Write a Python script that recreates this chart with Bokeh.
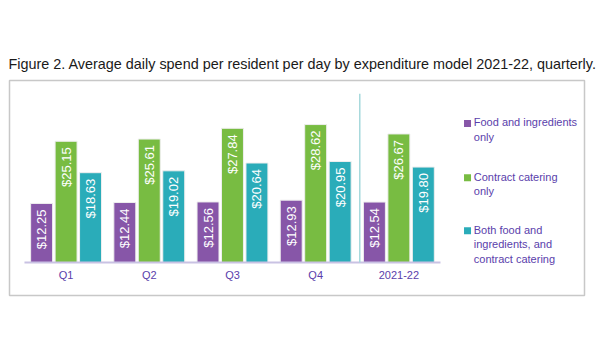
import math
from bokeh.plotting import figure
from bokeh.models import ColumnDataSource, Range1d
from bokeh.core.properties import value
from bokeh.transform import dodge
from bokeh.embed import file_html
from bokeh.resources import INLINE

categories = ["Q1", "Q2", "Q3", "Q4", "2021-22"]
food_only = [12.25, 12.44, 12.56, 12.93, 12.54]
contract_only = [25.15, 25.61, 27.84, 28.62, 26.67]
both = [18.63, 19.02, 20.64, 20.95, 19.80]
series_names = ["Food and ingredients\nonly", "Contract catering\nonly",
                "Both food and\ningredients, and\ncontract catering"]
colors = ["#8756a8", "#78bc42", "#2aacb9"]
title_text = "Figure 2. Average daily spend per resident per day by expenditure model 2021-22, quarterly."

FONT = "Liberation Sans"
LABEL_COLOR = "#5a3eab"

p = figure(width=600, height=350, output_backend="svg", toolbar_location=None,
           x_range=Range1d(-0.180, 6.731), y_range=Range1d(-6.85, 37.76),
           min_border_left=9, min_border_right=16, min_border_top=80, min_border_bottom=55,
           title=title_text)
p.title.text_font = FONT
p.title.text_font_size = "14.4px"
p.title.text_font_style = "normal"
p.title.text_color = "#1a1a1a"
p.title.standoff = 18
p.title.offset = -1
p.xaxis.visible = False
p.yaxis.visible = False
p.xgrid.visible = False
p.ygrid.visible = False
p.outline_line_color = "#c8c8c8"
p.outline_line_width = 1.5

xs = [i + 0.5 for i in range(len(categories))]
src = ColumnDataSource(dict(
    x=xs, cat=categories, food=food_only, contract=contract_only, both=both,
    food_l=["$%.2f" % v for v in food_only],
    contract_l=["$%.2f" % v for v in contract_only],
    both_l=["$%.2f" % v for v in both],
))

offsets = [-0.294, 0.0, 0.294]
fields = ["food", "contract", "both"]
for field, off, col in zip(fields, offsets, colors):
    p.vbar(x=dodge("x", off), top=field, bottom=0, width=0.264, source=src,
           fill_color=col, line_color="#eeeeee", line_width=1)
    p.text(x=dodge("x", off), y=field, text=field + "_l", source=src,
           angle=math.pi / 2, text_align="right", text_baseline="middle",
           y_offset=6, text_color="white", text_font=value(FONT),
           text_font_size="13px")

# baseline axis
p.segment(x0=0, y0=0, x1=len(categories), y1=0, line_color="#c9c2e3", line_width=2)
# separator between quarters and full year
p.segment(x0=4.03, y0=0, x1=4.03, y1=35, line_color="#a6d9dc", line_width=1.5)

# category labels
p.text(x="x", y=0, text="cat", source=src, text_align="center", text_baseline="middle",
       y_offset=13, text_color=LABEL_COLOR, text_font=value(FONT), text_font_size="11px")

# legend
leg_y = [28.84, 17.6, 6.6]
leg_src = ColumnDataSource(dict(x=[5.325] * 3, tx=[5.40] * 3, y=leg_y, name=series_names, color=colors))
p.scatter(x="x", y="y", source=leg_src, marker="square", size=7, fill_color="color", line_color=None)
p.text(x="tx", y="y", text="name", source=leg_src, text_align="left", text_baseline="top",
       y_offset=-7, text_color=LABEL_COLOR, text_font=value(FONT), text_font_size="11px",
       text_line_height=1.22)

open("out.html", "w").write(file_html(p, INLINE))
